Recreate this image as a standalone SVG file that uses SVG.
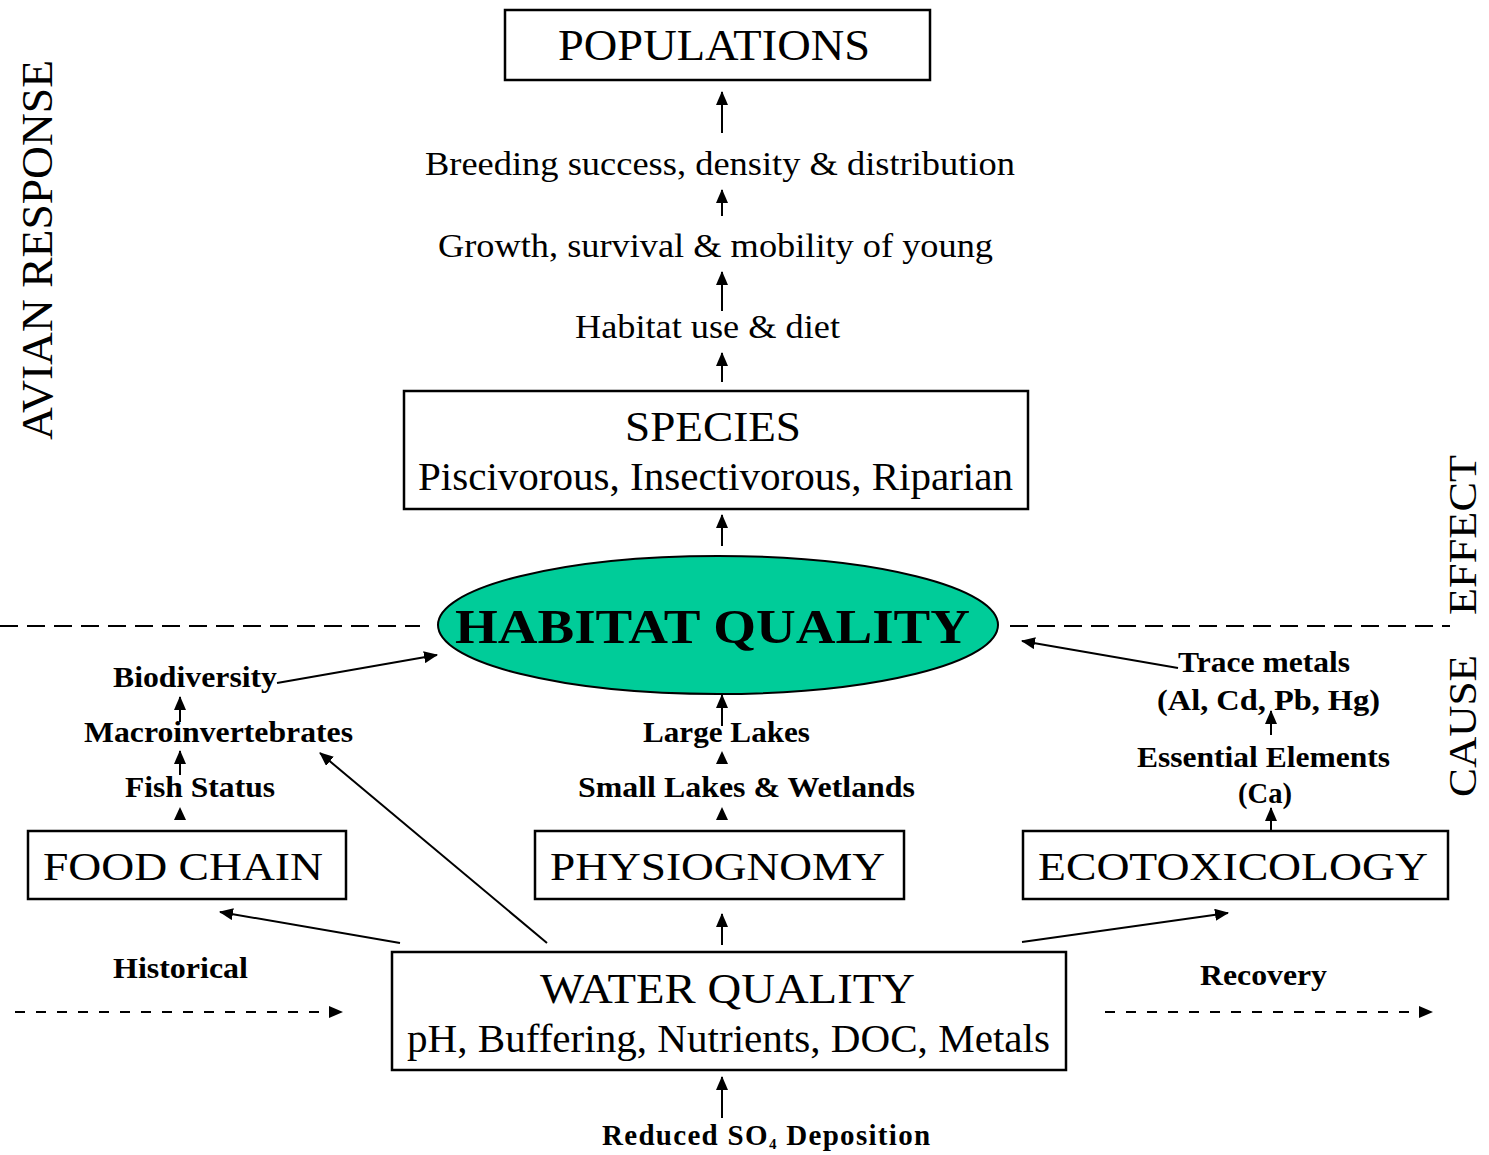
<svg xmlns="http://www.w3.org/2000/svg" width="1489" height="1155" viewBox="0 0 1489 1155">
<style>
.box{fill:#fff;stroke:#000;stroke-width:2.5}
.t{font-family:"Liberation Serif","Times New Roman",serif;fill:#000}
.b{font-family:"Liberation Serif","Times New Roman",serif;font-weight:bold;fill:#000}
.c{stroke:#000;stroke-width:2;fill:none}
.d{stroke:#000;stroke-width:2;fill:none;stroke-dasharray:18 9}
.d2{stroke:#000;stroke-width:2;fill:none;stroke-dasharray:10 11}
.h{fill:#000}
</style>
<defs>
<marker id="ah" viewBox="0 0 14 12" refX="13" refY="6" markerWidth="14" markerHeight="12" markerUnits="userSpaceOnUse" orient="auto">
<path d="M0,0 L14,6 L0,12 z" fill="#000"/>
</marker>
</defs>
<rect width="1489" height="1155" fill="#fff"/>

<g id="labels-side">
<text class="t" font-size="44" transform="translate(52,440) rotate(-90)" textLength="380" lengthAdjust="spacingAndGlyphs">AVIAN RESPONSE</text>
<text class="t" font-size="40" transform="translate(1476,797) rotate(-90)" textLength="142" lengthAdjust="spacingAndGlyphs">CAUSE</text>
<text class="t" font-size="40" transform="translate(1476,615) rotate(-90)" textLength="160" lengthAdjust="spacingAndGlyphs">EFFECT</text>
</g>

<g id="connectors">
<line class="d" x1="0" y1="626" x2="420" y2="626"/>
<line class="d" x1="1010" y1="626" x2="1450" y2="626"/>
<line class="c" x1="722" y1="133" x2="722" y2="92" marker-end="url(#ah)"/>
<line class="c" x1="722" y1="216" x2="722" y2="190" marker-end="url(#ah)"/>
<line class="c" x1="722" y1="311" x2="722" y2="272" marker-end="url(#ah)"/>
<line class="c" x1="722" y1="382" x2="722" y2="353" marker-end="url(#ah)"/>
<line class="c" x1="722" y1="546" x2="722" y2="515" marker-end="url(#ah)"/>
<line class="c" x1="722" y1="726" x2="722" y2="695" marker-end="url(#ah)"/>
<polygon class="h" points="722,751 716,764 728,764"/>
<polygon class="h" points="722,807 716,820 728,820"/>
<line class="c" x1="722" y1="945" x2="722" y2="914" marker-end="url(#ah)"/>
<line class="c" x1="722" y1="1118" x2="722" y2="1077" marker-end="url(#ah)"/>
<line class="c" x1="277" y1="683" x2="437" y2="655" marker-end="url(#ah)"/>
<line class="c" x1="180" y1="722" x2="180" y2="697" marker-end="url(#ah)"/>
<line class="c" x1="180" y1="775" x2="180" y2="751" marker-end="url(#ah)"/>
<polygon class="h" points="180,807 174,820 186,820"/>
<line class="c" x1="400" y1="943" x2="220" y2="912" marker-end="url(#ah)"/>
<line class="c" stroke-width="1.5" x1="547" y1="943" x2="320" y2="753" marker-end="url(#ah)"/>
<line class="c" x1="1022" y1="942" x2="1228" y2="913" marker-end="url(#ah)"/>
<line class="c" x1="1178" y1="668" x2="1022" y2="641" marker-end="url(#ah)"/>
<line class="c" x1="1271" y1="735" x2="1271" y2="711" marker-end="url(#ah)"/>
<line class="c" x1="1271" y1="830" x2="1271" y2="808" marker-end="url(#ah)"/>
<line class="d2" x1="15" y1="1012" x2="342" y2="1012" marker-end="url(#ah)"/>
<line class="d2" x1="1105" y1="1012" x2="1432" y2="1012" marker-end="url(#ah)"/>
</g>

<g id="populations">
<rect class="box" x="505" y="10" width="425" height="70"/>
<text class="t" font-size="44" x="558" y="60" textLength="312" lengthAdjust="spacingAndGlyphs">POPULATIONS</text>
</g>

<g id="breeding">
<text class="t" font-size="34" x="425" y="175" textLength="590" lengthAdjust="spacingAndGlyphs">Breeding success, density &amp; distribution</text>
</g>
<g id="growth">
<text class="t" font-size="34" x="438" y="257" textLength="555" lengthAdjust="spacingAndGlyphs">Growth, survival &amp; mobility of young</text>
</g>
<g id="habitat-use">
<text class="t" font-size="34" x="575" y="338" textLength="265" lengthAdjust="spacingAndGlyphs">Habitat use &amp; diet</text>
</g>

<g id="species">
<rect class="box" x="404" y="391" width="624" height="118"/>
<text class="t" font-size="42" x="625" y="441" textLength="176" lengthAdjust="spacingAndGlyphs">SPECIES</text>
<text class="t" font-size="40" x="418" y="490" textLength="595" lengthAdjust="spacingAndGlyphs">Piscivorous, Insectivorous, Riparian</text>
</g>

<g id="habitat-quality">
<ellipse cx="718" cy="625" rx="280" ry="69" fill="#00CC99" stroke="#000" stroke-width="2"/>
<text class="b" font-size="48" x="455" y="643" textLength="515" lengthAdjust="spacingAndGlyphs">HABITAT QUALITY</text>
</g>

<g id="biodiversity"><text class="b" font-size="30" x="113" y="687" textLength="164" lengthAdjust="spacingAndGlyphs">Biodiversity</text></g>
<g id="macroinvertebrates"><text class="b" font-size="30" x="84" y="742" textLength="269" lengthAdjust="spacingAndGlyphs">Macroinvertebrates</text></g>
<g id="fish-status"><text class="b" font-size="30" x="125" y="797" textLength="150" lengthAdjust="spacingAndGlyphs">Fish Status</text></g>

<g id="food-chain">
<rect class="box" x="28" y="831" width="318" height="68"/>
<text class="t" font-size="40" x="43" y="880" textLength="280" lengthAdjust="spacingAndGlyphs">FOOD CHAIN</text>
</g>

<g id="large-lakes"><text class="b" font-size="30" x="643" y="742" textLength="167" lengthAdjust="spacingAndGlyphs">Large Lakes</text></g>
<g id="small-lakes"><text class="b" font-size="30" x="578" y="797" textLength="337" lengthAdjust="spacingAndGlyphs">Small Lakes &amp; Wetlands</text></g>

<g id="physiognomy">
<rect class="box" x="535" y="831" width="369" height="68"/>
<text class="t" font-size="40" x="550" y="880" textLength="335" lengthAdjust="spacingAndGlyphs">PHYSIOGNOMY</text>
</g>

<g id="trace-metals">
<text class="b" font-size="30" x="1178" y="672" textLength="172" lengthAdjust="spacingAndGlyphs">Trace metals</text>
<text class="b" font-size="30" x="1157" y="710" textLength="223" lengthAdjust="spacingAndGlyphs">(Al, Cd, Pb, Hg)</text>
</g>
<g id="essential-elements">
<text class="b" font-size="30" x="1137" y="767" textLength="253" lengthAdjust="spacingAndGlyphs">Essential Elements</text>
<text class="b" font-size="30" x="1238" y="803" textLength="54" lengthAdjust="spacingAndGlyphs">(Ca)</text>
</g>

<g id="ecotoxicology">
<rect class="box" x="1023" y="831" width="425" height="68"/>
<text class="t" font-size="40" x="1038" y="880" textLength="390" lengthAdjust="spacingAndGlyphs">ECOTOXICOLOGY</text>
</g>

<g id="historical"><text class="b" font-size="30" x="113" y="978" textLength="135" lengthAdjust="spacingAndGlyphs">Historical</text></g>
<g id="recovery"><text class="b" font-size="30" x="1200" y="985" textLength="127" lengthAdjust="spacingAndGlyphs">Recovery</text></g>

<g id="water-quality">
<rect class="box" x="392" y="952" width="674" height="118"/>
<text class="t" font-size="42" x="540" y="1003" textLength="375" lengthAdjust="spacingAndGlyphs">WATER QUALITY</text>
<text class="t" font-size="40" x="407" y="1052" textLength="643" lengthAdjust="spacingAndGlyphs">pH, Buffering, Nutrients, DOC, Metals</text>
</g>

<g id="reduced-so">
<text class="b" font-size="29" x="602" y="1145" letter-spacing="1.3">Reduced SO<tspan font-size="15" dy="4">4</tspan><tspan dy="-4"> Deposition</tspan></text>
</g>
</svg>
